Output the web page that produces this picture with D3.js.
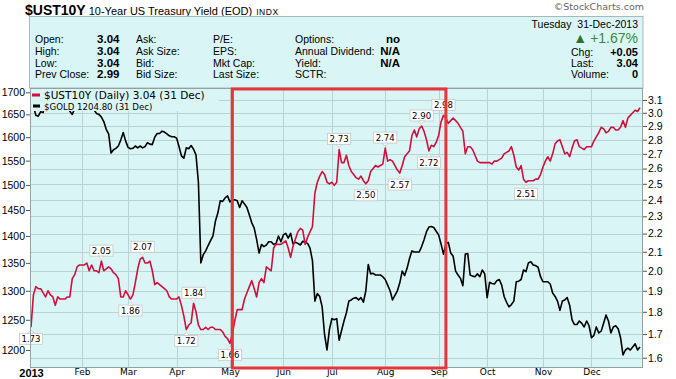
<!DOCTYPE html>
<html><head><meta charset="utf-8">
<script src="https://cdn.jsdelivr.net/npm/d3@7/dist/d3.min.js"></script>
<style>body{margin:0;background:#fff}svg{display:block}</style>
</head><body>
<svg id="chart" width="676" height="379"></svg>
<script>
// ---------------- DATA ----------------
const monthLabels = ["2013","Feb","Mar","Apr","May","Jun","Jul","Aug","Sep","Oct","Nov","Dec"];
const monthStartDays = [0,21,40,60,82,104,124,146,168,188,211,231]; // trading-day index
const goldTicks = [1200,1250,1300,1350,1400,1450,1500,1550,1600,1650,1700];
const yieldTicks = [1.6,1.7,1.8,1.9,2.0,2.1,2.2,2.3,2.4,2.5,2.6,2.7,2.8,2.9,3.0,3.1];

// $GOLD daily close, trading days 0..251 of 2013
const goldValues = [
1688,1668,1648,1646,1656,1654,1676,1662,1669,1683,
1687,1689,1687,1692,1685,1668,1657,1650,1662,1677,
1663,1669,1676,1673,1675,1667,1660,1652,1650,1644,
1634,1617,1607,1566,1573,1576,1581,1594,1610,1592,
1578,1575,1576,1581,1577,1581,1577,1580,1588,1585,
1584,1600,1608,1608,1613,1611,1607,1603,1601,1601,
1598,1580,1560,1555,1577,1575,1582,1574,1562,1505,
1350,1365,1372,1382,1391,1400,1428,1444,1468,1467,
1474,1478,1466,1470,1470,1468,1455,1468,1462,1455,
1440,1425,1415,1393,1368,1384,1380,1383,1389,1389,
1384,1386,1400,1389,1402,1405,1396,1405,1385,1388,
1386,1383,1390,1388,1386,1377,1354,1282,1295,1290,
1272,1225,1200,1234,1252,1250,1252,1216,1232,1248,
1262,1282,1284,1287,1288,1284,1288,1280,1300,1347,
1330,1331,1328,1328,1328,1325,1320,1310,1300,1284,
1292,1300,1314,1335,1327,1340,1358,1372,1370,1370,
1370,1380,1393,1408,1417,1418,1416,1409,1402,1385,
1366,1385,1388,1368,1362,1335,1328,1322,1309,1366,
1367,1328,1326,1325,1330,1325,1337,1330,1288,1315,
1313,1312,1318,1320,1310,1290,1280,1272,1276,1282,
1316,1317,1320,1337,1334,1350,1352,1346,1345,1342,
1325,1316,1316,1316,1312,1296,1290,1282,1266,1282,
1284,1288,1275,1250,1242,1242,1248,1244,1238,1248,
1240,1220,1224,1238,1228,1231,1244,1258,1248,1228,
1238,1240,1235,1220,1192,1200,1203,1200,1205,1210,
1200,1204.8];

// $UST10Y daily close, trading days 0..251 of 2013
const yieldValues = [
1.73,1.88,1.92,1.91,1.91,1.89,1.87,1.90,1.88,1.87,
1.83,1.87,1.86,1.86,1.86,1.87,1.87,1.96,1.98,2.02,
2.03,2.03,2.03,2.04,2.00,2.03,2.00,2.00,1.99,2.05,
2.00,2.01,2.02,2.01,1.99,1.98,1.96,1.87,1.87,1.90,
1.88,1.86,1.88,1.94,2.01,2.06,2.07,2.04,2.04,2.05,
2.00,1.93,1.94,1.93,1.92,1.91,1.90,1.87,1.86,1.86,
1.86,1.87,1.83,1.78,1.72,1.74,1.75,1.84,1.80,1.74,
1.72,1.72,1.73,1.72,1.73,1.73,1.72,1.72,1.72,1.71,
1.69,1.68,1.66,1.70,1.76,1.81,1.81,1.81,1.86,1.89,
1.92,1.95,1.91,1.87,1.94,1.96,1.94,2.02,2.01,2.00,
2.12,2.14,2.14,2.14,2.15,2.16,2.12,2.07,2.13,2.17,
2.21,2.23,2.22,2.14,2.18,2.21,2.24,2.44,2.51,2.55,
2.58,2.56,2.51,2.50,2.51,2.49,2.51,2.73,2.64,2.64,
2.69,2.62,2.58,2.56,2.54,2.53,2.55,2.52,2.50,2.52,
2.58,2.60,2.62,2.61,2.62,2.63,2.74,2.65,2.66,2.65,
2.62,2.59,2.57,2.62,2.68,2.70,2.72,2.83,2.87,2.82,
2.88,2.90,2.86,2.80,2.72,2.76,2.75,2.78,2.83,2.93,
2.98,2.96,2.92,2.94,2.96,2.94,2.92,2.89,2.86,2.70,
2.75,2.75,2.73,2.69,2.65,2.64,2.64,2.64,2.64,2.64,
2.63,2.65,2.65,2.66,2.67,2.70,2.71,2.72,2.75,2.69,
2.61,2.59,2.62,2.53,2.51,2.52,2.52,2.52,2.53,2.53,
2.56,2.61,2.65,2.68,2.65,2.70,2.77,2.79,2.80,2.75,
2.70,2.71,2.68,2.74,2.79,2.80,2.75,2.74,2.73,2.75,
2.75,2.75,2.79,2.82,2.85,2.89,2.88,2.85,2.86,2.89,
2.89,2.87,2.87,2.89,2.94,2.89,2.96,2.98,3.00,3.02,
3.01,3.04];

// annotated highs/lows on the yield line
const labelDays      = [0, 29, 41, 46, 64, 67, 82, 127, 138, 146, 152, 161, 164, 170, 204];
const labelPlacement = ["below","above","below","above","below","above","below","above","below","above","below","above","below","above","below"];

const highlightDays = [83, 171]; // red rectangle span

const legendLines = ["$UST10Y (Daily) 3.04 (31 Dec)", "$GOLD 1204.80 (31 Dec)"];

const quoteCol1Labels = ["Open:","High:","Low:","Prev Close:"];
const quoteCol1Values = ["3.04","3.04","3.04","2.99"];
const quoteCol2Labels = ["Ask:","Ask Size:","Bid:","Bid Size:"];
const quoteCol3Labels = ["P/E:","EPS:","Mkt Cap:","Last Size:"];
const quoteCol4Labels = ["Options:","Annual Dividend:","Yield:","SCTR:"];
const quoteCol4Values = ["no","N/A","N/A",""];
const quoteRightLabels = ["Chg:","Last:","Volume:"];
const quoteRightValues = ["+0.05","3.04","0"];

// ---------------- DRAW ----------------
const svg = d3.select("#chart");
const W = 676, H = 379;
const PL = 30, PR = 643, PT = 88, PB = 367;
const plotBg = "#daf5f5";
const arial = "'Liberation Sans', Arial, sans-serif";
const verd = "'DejaVu Sans', Verdana, sans-serif";

svg.append("rect").attr("width", W).attr("height", H).attr("fill", "#fff");

const x = d3.scaleLinear().domain([0, 251]).range([31, 640]);
const yY = d3.scaleLog().domain([3.1, 1.6]).range([100, 357.7]);
const yG = d3.scaleLog().domain([1700, 1200]).range([92.3, 350]);

// title
const title = svg.append("text").attr("x", 25).attr("y", 15).attr("font-family", arial);
title.append("tspan").attr("font-size", 14).attr("font-weight", "bold").text("$UST10Y");
title.append("tspan").attr("font-size", 11).attr("dx", 3).text("10-Year US Treasury Yield (EOD)");
title.append("tspan").attr("font-size", 8.5).attr("dx", 4).attr("letter-spacing", 0.6).text("INDX");

svg.append("text").attr("x", 644).attr("y", 10).attr("text-anchor", "end")
  .attr("font-family", verd).attr("font-size", 9.5).attr("fill", "#666").text("\u00A9StockCharts.com");

// header box
svg.append("rect").attr("x", 29.5).attr("y", 16.5).attr("width", PR - 29.5).attr("height", PT - 16.5)
  .attr("fill", plotBg).attr("stroke", "#a9b9b9");

const hdr = svg.append("g").attr("font-family", arial).attr("font-size", 10.5).attr("fill", "#000");
const rowY = [43, 55, 66.5, 78];
const rightRowY = [56, 67, 78];
function col(labels, xPos) {
  labels.forEach((t, i) => hdr.append("text").attr("x", xPos).attr("y", rowY[i]).text(t));
}
function valCol(vals, xEnd) {
  vals.forEach((t, i) => hdr.append("text").attr("x", xEnd).attr("y", rowY[i])
    .attr("text-anchor", "end").attr("font-weight", "bold").attr("font-size", 11.5).text(t));
}
col(quoteCol1Labels, 35); valCol(quoteCol1Values, 119.5);
col(quoteCol2Labels, 136);
col(quoteCol3Labels, 213);
col(quoteCol4Labels, 295); valCol(quoteCol4Values, 400);
hdr.append("text").attr("x", 638).attr("y", 27.5).attr("text-anchor", "end").attr("xml:space", "preserve").text("Tuesday  31-Dec-2013");
const pct = hdr.append("text").attr("x", 638).attr("y", 42.5).attr("text-anchor", "end").attr("fill", "#3b8a3b").attr("font-size", 14);
pct.append("tspan").attr("font-size", 14).attr("fill", "#2f6f2f").text("\u25B2");
pct.append("tspan").attr("dx", 3).text("+1.67%");
quoteRightLabels.forEach((t, i) => {
  hdr.append("text").attr("x", 571).attr("y", rightRowY[i]).text(t);
  hdr.append("text").attr("x", 638).attr("y", rightRowY[i]).attr("text-anchor", "end")
    .attr("font-weight", "bold").attr("font-size", 11).text(quoteRightValues[i]);
});

// plot background
svg.append("rect").attr("x", PL).attr("y", PT).attr("width", PR - PL).attr("height", PB - PT).attr("fill", plotBg);

// grid
const grid = svg.append("g").attr("stroke", "#b9d2d2").attr("stroke-width", 1).attr("shape-rendering", "crispEdges");
monthStartDays.slice(1).forEach(d => grid.append("line")
  .attr("x1", Math.round(x(d)) + 0.5).attr("x2", Math.round(x(d)) + 0.5).attr("y1", PT).attr("y2", PB));
yieldTicks.forEach(t => grid.append("line")
  .attr("x1", PL).attr("x2", PR).attr("y1", Math.round(yY(t)) + 0.5).attr("y2", Math.round(yY(t)) + 0.5));

// clip
svg.append("clipPath").attr("id", "clip").append("rect").attr("x", PL).attr("y", PT).attr("width", PR - PL).attr("height", PB - PT);
const plot = svg.append("g").attr("clip-path", "url(#clip)");

const goldLine = d3.line().x((d, i) => x(i)).y(d => yG(d));
const yieldLine = d3.line().x((d, i) => x(i)).y(d => yY(d));

plot.append("path").datum(goldValues).attr("d", goldLine).attr("fill", "none")
  .attr("stroke", "#000").attr("stroke-width", 1.6).attr("stroke-linejoin", "round");
plot.append("path").datum(yieldValues).attr("d", yieldLine).attr("fill", "none")
  .attr("stroke", "#d0103c").attr("stroke-width", 1.6).attr("stroke-linejoin", "round");

// legend (opaque, covers lines)
const leg = svg.append("g");
leg.append("rect").attr("x", PL + 1).attr("y", PT + 1).attr("width", 188).attr("height", 22).attr("fill", plotBg);
leg.append("line").attr("x1", 32).attr("x2", 40).attr("y1", 95).attr("y2", 95).attr("stroke", "#d0103c").attr("stroke-width", 3);
leg.append("line").attr("x1", 33).attr("x2", 40).attr("y1", 106).attr("y2", 106).attr("stroke", "#000").attr("stroke-width", 3);
leg.append("text").attr("x", 44).attr("y", 99).attr("font-family", verd).attr("font-size", 10.5).text(legendLines[0]);
leg.append("text").attr("x", 44).attr("y", 109.5).attr("font-family", verd).attr("font-size", 8.6).text(legendLines[1]);

// value labels
const lab = svg.append("g").attr("font-family", verd).attr("font-size", 8.6);
labelDays.forEach((d, i) => {
  const px = x(d), py = yY(yieldValues[d]);
  const g = lab.append("g");
  const t = g.append("text").attr("text-anchor", "middle").text(d3.format(".2f")(yieldValues[d]));
  const tw = t.node().getComputedTextLength();
  const bw = tw + 4, bh = 11;
  const above = labelPlacement[i] === "above";
  const by = above ? py - 5 - bh : py + 6;
  const ptr = above
    ? `M${px - 3},${by + bh} L${px},${by + bh + 3} L${px + 3},${by + bh} Z`
    : `M${px - 3},${by} L${px},${by - 3} L${px + 3},${by} Z`;
  g.insert("rect", "text").attr("x", px - bw / 2).attr("y", by).attr("width", bw).attr("height", bh)
    .attr("fill", "#fff").attr("stroke", "#c8c8c8").attr("stroke-width", 0.8);
  g.insert("path", "text").attr("d", ptr).attr("fill", "#fff").attr("stroke", "#c8c8c8").attr("stroke-width", 0.8);
  t.attr("x", px).attr("y", by + 8.6);
});

// plot border
svg.append("rect").attr("x", PL + 0.5).attr("y", PT + 0.5).attr("width", PR - PL - 1).attr("height", PB - PT)
  .attr("fill", "none").attr("stroke", "#8fa3a3");

// axes
const axL = svg.append("g").attr("transform", `translate(${PL},0)`)
  .call(d3.axisLeft(yG).tickValues(goldTicks).tickSize(4).tickPadding(1).tickFormat(d3.format("d")));
const axR = svg.append("g").attr("transform", `translate(${PR},0)`)
  .call(d3.axisRight(yY).tickValues(yieldTicks).tickSize(4).tickPadding(1).tickFormat(d3.format(".1f")));
[axL, axR].forEach(a => {
  a.select(".domain").remove();
  a.selectAll("line").attr("stroke", "#555");
  a.selectAll("text").attr("font-family", arial).attr("font-size", 10.5).attr("fill", "#000");
});
const axB = svg.append("g").attr("transform", `translate(0,${PB})`)
  .call(d3.axisBottom(x).tickValues(monthStartDays).tickSize(0).tickPadding(2).tickFormat((d, i) => monthLabels[i]));
axB.select(".domain").remove();
axB.selectAll("text").attr("font-family", verd).attr("font-size", 9).attr("fill", "#000")
  .filter((d, i) => i === 0).attr("font-family", arial).attr("font-weight", "bold").attr("font-size", 11);

// red highlight rectangle
svg.append("rect").attr("x", x(highlightDays[0])).attr("y", PT + 1)
  .attr("width", x(highlightDays[1]) - x(highlightDays[0])).attr("height", PB - PT)
  .attr("fill", "none").attr("stroke", "#e8353a").attr("stroke-width", 3);
</script>
</body></html>
